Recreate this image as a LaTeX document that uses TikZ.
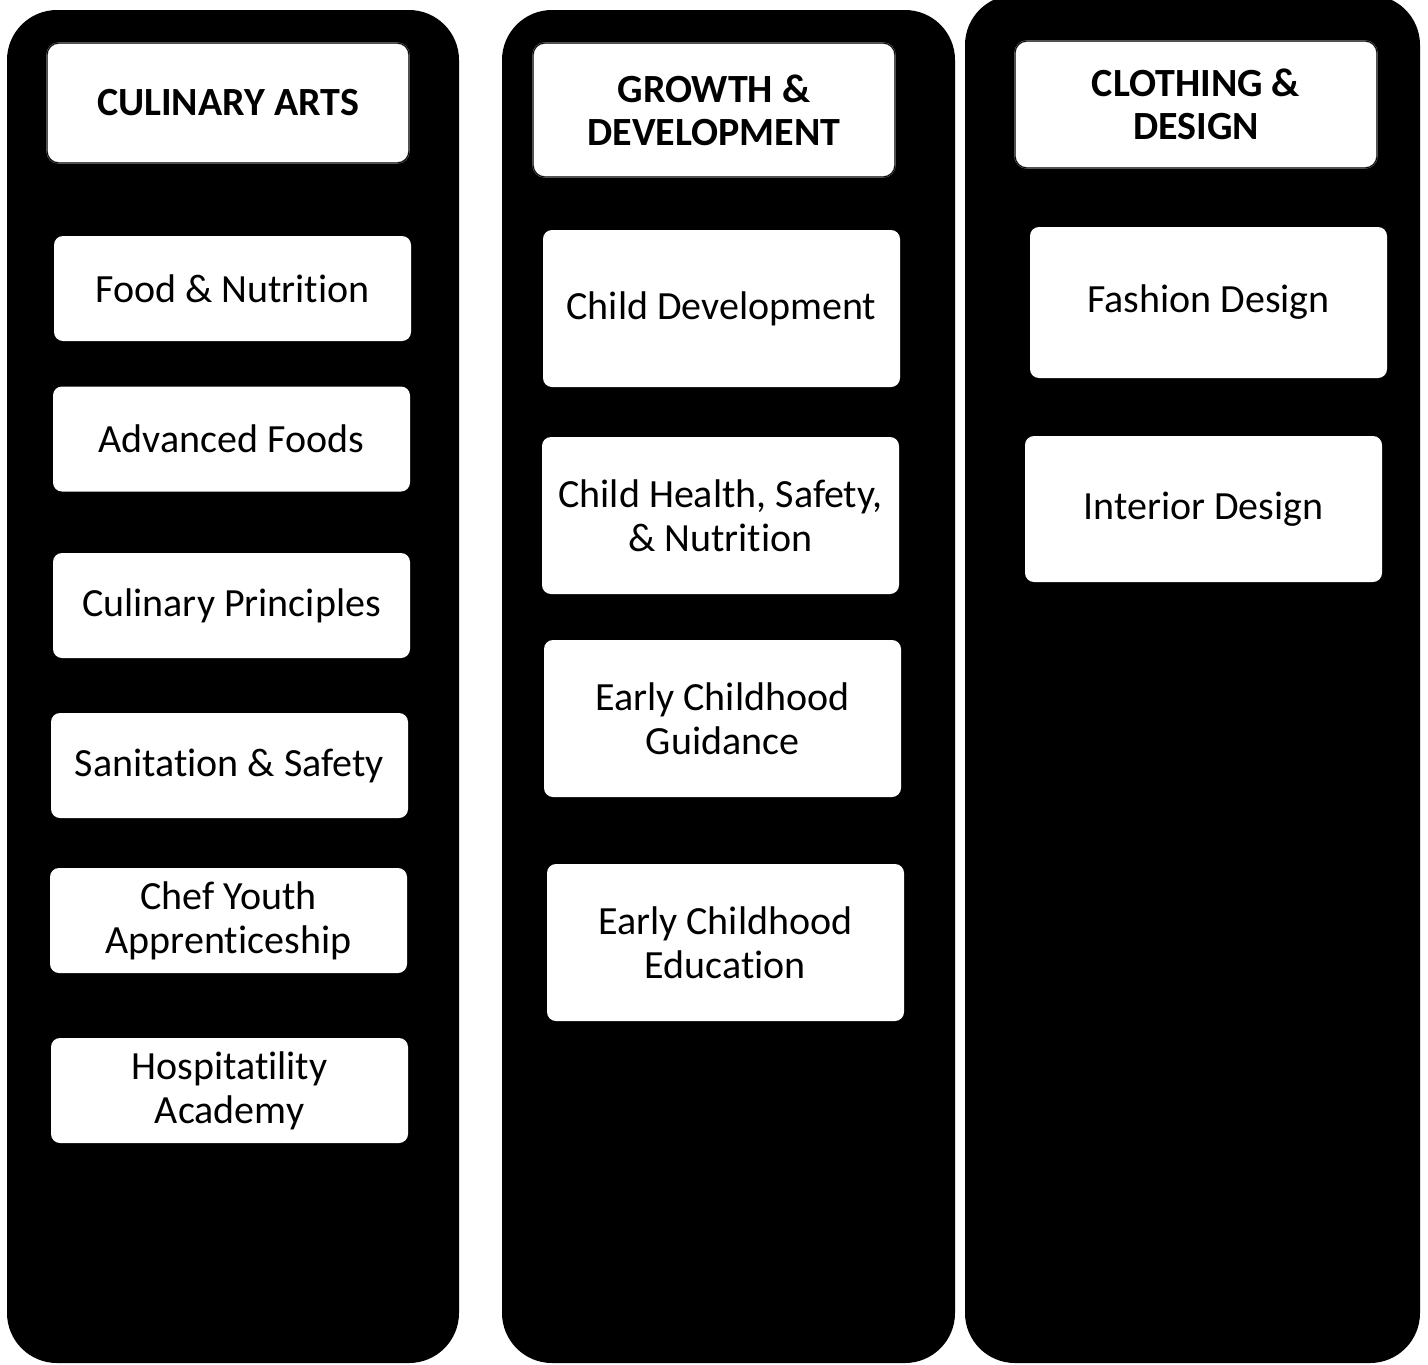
\documentclass[tikz,border=0pt]{standalone}
\usepackage{fontspec}
\setmainfont{Carlito}[Ligatures=NoCommon]
\begin{document}
\begin{tikzpicture}[x=1pt,y=-1pt,
  column/.style={fill=black,rounded corners=50pt,inner sep=0pt},
  head/.style={draw=gray,double=black,double distance=0.8pt,fill=white,
    rounded corners=12pt,inner sep=0pt,minimum width=362pt,align=center,
    font=\bfseries\fontsize{40}{43}\selectfont},
  course/.style={fill=white,rounded corners=9pt,inner sep=0pt,
    minimum width=357pt,minimum height=105pt,align=center,
    font=\fontsize{40}{44}\selectfont}]
\useasboundingbox (0,0) rectangle (1428,1365);
% columns
\node[column,minimum width=452pt,minimum height=1353pt] (culcol) at (233,686.5) {};
\node[column,minimum width=453pt,minimum height=1353pt] (growcol) at (728.5,686.5) {};
\node[column,minimum width=455pt,minimum height=1368pt] (clothcol) at (1192.5,679) {};
% headers
\node[head,minimum height=120pt] (culinary) at (228,103) {CULINARY ARTS};
\node[head,minimum height=134pt] (growth) at (714,110) {GROWTH \&\\DEVELOPMENT};
\node[head,minimum height=127pt] (clothing) at (1196,104.5) {CLOTHING \&\\DESIGN};
% culinary arts
\node[course] (food) at (232.5,288.5) {Food \& Nutrition};
\node[course] (advanced) at (231.5,439) {Advanced Foods};
\node[course] (principles) at (231.5,605.5) {Culinary Principles};
\node[course] (sanitation) at (229.5,765.5) {Sanitation \& Safety};
\node[course] (chef) at (228.5,920.5) {Chef Youth\\Apprenticeship};
\node[course] (hospitality) at (229.5,1090.5) {Hospitatility\\Academy};
% growth & development
\node[course,minimum height=157pt] (childdev) at (721.5,308.5) {Child Development};
\node[course,minimum height=157pt] (childhealth) at (720.5,515.5) {Child Health, Safety,\\\& Nutrition};
\node[course,minimum height=157pt] (guidance) at (722.5,718.5) {Early Childhood\\Guidance};
\node[course,minimum height=157pt] (education) at (725.5,942.5) {Early Childhood\\Education};
% clothing & design
\node[course,minimum height=151pt] (fashion) at (1208.5,302.5) {Fashion Design};
\node[course,minimum height=146pt] (interior) at (1203.5,509) {Interior Design};
\end{tikzpicture}
\end{document}
